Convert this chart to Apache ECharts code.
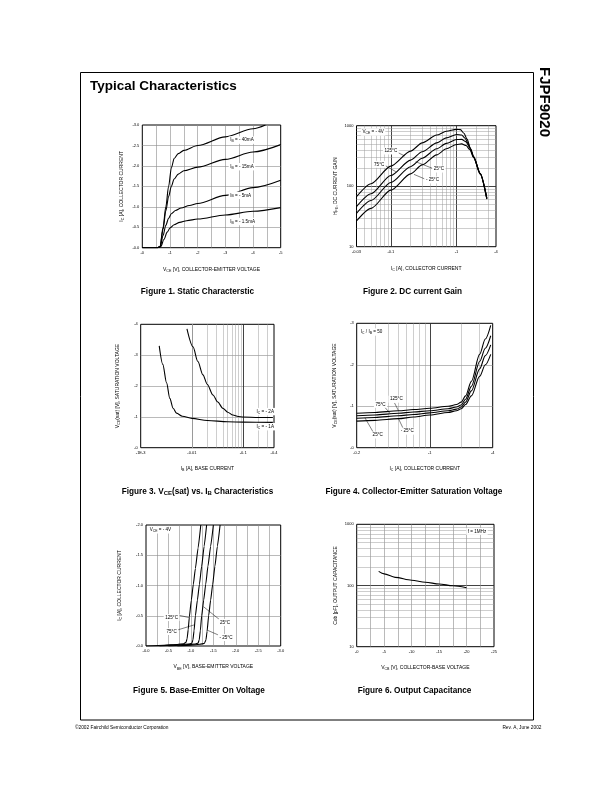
<!DOCTYPE html>
<html>
<head>
<meta charset="utf-8">
<title>FJPF9020 Typical Characteristics</title>
<script src="https://cdn.jsdelivr.net/npm/echarts@6.0.0/dist/echarts.min.js"></script>
<style>
html,body{margin:0;padding:0;background:#fff;}
#chart{width:612px;height:792px;}
</style>
</head>
<body>
<div id="chart"></div>
<script>
// ================= DATA (magnitudes; axis labels carry the minus sign) =================
// Figure 1. Static Characteristic : [|V_CE| (V), |I_C| (A)]
const fig1_IB40 = [[0,0],[0.55,0],[0.64,0.02],[0.75,0.5],[0.85,1.0],[0.95,1.5],[1.05,1.95],[1.15,2.18],[1.3,2.3],[1.5,2.38],[2,2.5],[3,2.71],[4,2.91],[4.45,3.0]];
const fig1_IB15 = [[0,0],[0.55,0],[0.64,0.02],[0.75,0.45],[0.85,0.9],[0.95,1.25],[1.05,1.5],[1.15,1.68],[1.3,1.8],[1.5,1.88],[2,1.97],[3,2.16],[4,2.34],[5,2.52]];
const fig1_IB5  = [[0,0],[0.55,0],[0.65,0.03],[0.75,0.3],[0.85,0.55],[0.95,0.72],[1.05,0.83],[1.2,0.91],[1.4,0.97],[1.7,1.03],[2,1.08],[3,1.28],[4,1.47],[5,1.65]];
const fig1_IB1p5= [[0,0],[0.55,0],[0.67,0.03],[0.78,0.2],[0.9,0.38],[1.0,0.48],[1.15,0.56],[1.35,0.62],[1.6,0.66],[2,0.7],[3,0.8],[4,0.89],[5,0.98]];
const fig1XTicks = [0,1,2,3,4,5];
const fig1XLabels = ['-0','-1','-2','-3','-4','-5'];
const fig1YTicks = [0,0.5,1,1.5,2,2.5,3];
const fig1YLabels = ['-0.0','-0.5','-1.0','-1.5','-2.0','-2.5','-3.0'];

// Figure 2. DC current Gain : [|I_C| (A), hFE]
const fig2_T125 = [[0.03,67],[0.05,110],[0.1,215],[0.2,380],[0.3,520],[0.5,700],[0.7,810],[1.0,870],[1.15,860],[1.3,750],[1.45,600],[1.63,423],[1.83,307],[2.3,163],[2.9,64]];
const fig2_T75  = [[0.03,46],[0.05,75],[0.1,150],[0.2,270],[0.3,370],[0.5,520],[0.7,630],[1.0,715],[1.2,700],[1.35,620],[1.5,510],[1.63,410],[1.83,305],[2.3,162],[2.9,63]];
const fig2_T25  = [[0.03,35.6],[0.05,58],[0.1,115],[0.2,210],[0.3,290],[0.5,415],[0.7,510],[1.0,590],[1.2,595],[1.4,540],[1.6,430],[1.83,300],[2.3,160],[2.9,62]];
const fig2_Tm25 = [[0.03,26.6],[0.05,43],[0.1,86],[0.2,160],[0.3,225],[0.5,330],[0.7,415],[1.0,490],[1.2,500],[1.4,470],[1.6,400],[1.83,295],[2.3,158],[2.9,61]];
const fig2XTicks = [0.03,0.1,1,4];
const fig2XLabels = ['-0.03','-0.1','-1','-4'];
const fig2YTicks = [10,100,1000];
const fig2YLabels = ['10','100','1000'];

// Figure 3. VCE(sat) vs IB : [|I_B| (A), |V_CE(sat)|]
const fig3_IC1 = [[0.0023,3.3],[0.0027,2.7],[0.0032,2.1],[0.0037,1.6],[0.0043,1.28],[0.005,1.12],[0.0065,1.02],[0.01,0.95],[0.02,0.88],[0.05,0.84],[0.1,0.83],[0.38,0.82]];
const fig3_IC2 = [[0.008,3.85],[0.0105,3.27],[0.013,2.8],[0.0164,2.36],[0.02,2.05],[0.0257,1.71],[0.032,1.48],[0.04,1.28],[0.05,1.15],[0.063,1.06],[0.08,1.01],[0.1,0.995],[0.2,0.98],[0.38,0.98]];
const fig3XTicks = [0.001,0.01,0.1,0.4];
const fig3XLabels = ['-1E-3','-0.01','-0.1','-0.4'];
const fig3YTicks = [0,1,2,3,4];
const fig3YLabels = ['-0','-1','-2','-3','-4'];

// Figure 4. Collector-Emitter Saturation Voltage : [|I_C| (A), |V_CE(sat)|]
const fig4_T125 = [[0.2,0.83],[0.3,0.85],[0.5,0.89],[0.7,0.92],[1,0.95],[1.5,1.0],[1.8,1.04],[2.0,1.1],[2.2,1.25],[2.5,1.6],[3,2.25],[3.4,2.62],[3.83,2.95]];
const fig4_T75  = [[0.2,0.77],[0.3,0.79],[0.5,0.83],[0.7,0.86],[1,0.89],[1.5,0.94],[1.8,0.98],[2.0,1.03],[2.2,1.17],[2.5,1.48],[3,2.08],[3.4,2.4],[3.83,2.7]];
const fig4_T25  = [[0.2,0.71],[0.3,0.73],[0.5,0.77],[0.7,0.8],[1,0.84],[1.5,0.89],[1.8,0.93],[2.0,0.98],[2.2,1.1],[2.5,1.37],[3,1.9],[3.4,2.22],[3.83,2.48]];
const fig4_Tm25 = [[0.2,0.64],[0.3,0.66],[0.5,0.7],[0.7,0.74],[1,0.79],[1.5,0.85],[1.8,0.89],[2.0,0.94],[2.2,1.04],[2.5,1.25],[3,1.72],[3.4,2.0],[3.83,2.25]];
const fig4XTicks = [0.2,1,4];
const fig4XLabels = ['-0.2','-1','-4'];
const fig4YTicks = [0,1,2,3];
const fig4YLabels = ['-0','-1','-2','-3'];

// Figure 5. Base-Emitter On Voltage : [|V_BE| (V), |I_C| (A)]
const fig5_T125 = [[0,0],[0.4,0.012],[0.7,0.026],[0.84,0.038],[0.89,0.06],[0.915,0.12],[0.94,0.27],[0.965,0.48],[1.01,0.76],[1.054,1.02],[1.1,1.28],[1.16,1.62],[1.22,2.0]];
const fig5_T75  = [[0.3,0],[0.7,0.018],[0.95,0.032],[1.02,0.045],[1.045,0.1],[1.07,0.25],[1.1,0.5],[1.145,0.76],[1.19,1.02],[1.24,1.32],[1.295,1.65],[1.35,2.0]];
const fig5_T25  = [[0.5,0],[0.9,0.02],[1.1,0.034],[1.16,0.048],[1.185,0.1],[1.21,0.25],[1.24,0.5],[1.285,0.76],[1.33,1.02],[1.38,1.32],[1.44,1.65],[1.5,2.0]];
const fig5_Tm25 = [[0.7,0],[1.0,0.015],[1.2,0.028],[1.3,0.043],[1.335,0.1],[1.36,0.24],[1.395,0.5],[1.44,0.76],[1.485,1.02],[1.535,1.32],[1.59,1.65],[1.65,2.0]];
const fig5XTicks = [0,0.5,1,1.5,2,2.5,3];
const fig5XLabels = ['-0.0','-0.5','-1.0','-1.5','-2.0','-2.5','-3.0'];
const fig5YTicks = [0,0.5,1,1.5,2];
const fig5YLabels = ['-0.0','-0.5','-1.0','-1.5','-2.0'];

// Figure 6. Output Capacitance : [|V_CB| (V), Cob (pF)]
const fig6_Cob = [[4,170],[5,155],[7,136],[10,122],[12.5,113],[15,106],[17.5,99],[20,92]];
const fig6XTicks = [0,5,10,15,20,25];
const fig6XLabels = ['-0','-5','-10','-15','-20','-25'];
const fig6YTicks = [10,100,1000];
const fig6YLabels = ['10','100','1000'];

// ================= STYLE / LAYOUT =================
const FONT = 'Liberation Sans';
const GRID_LIN = '#8c8c8c';
const GRID_DEC = '#2e2e2e';
const GRID_MIN = '#9c9c9c';

const grids = [
  {left:142.3, top:125,   width:138.4, height:122.7},
  {left:356.5, top:125.7, width:139.5, height:121},
  {left:140.7, top:324.3, width:133.3, height:123.4},
  {left:356.7, top:323.3, width:136,   height:124.4},
  {left:146,   top:525,   width:134.7, height:121},
  {left:356.7, top:524.3, width:137.3, height:122.4}
].map(g => Object.assign({show:true, borderColor:'#000', borderWidth:1, backgroundColor:'rgba(0,0,0,0)', containLabel:false, outerBoundsMode:'none'}, g));

function lookupFmt(ticks, labels, rel) {
  return function (v) {
    for (let i = 0; i < ticks.length; i++) {
      const t = ticks[i];
      const d = rel ? Math.abs(v / t - 1) : Math.abs(v - t);
      if (d < 1e-6) return labels[i];
    }
    return '';
  };
}
function richStyle(fs, weight) {
  return {
    n: {fontSize: fs, fontFamily: FONT, color: '#000', fontWeight: weight || 'normal'},
    s: {fontSize: fs * 0.72, fontFamily: FONT, color: '#000', fontWeight: weight || 'normal', padding: [fs * 0.6, 0, 0, 0]}
  };
}
function mkAxis(k, cfg) {
  const isLog = !!cfg.log;
  const a = {
    gridIndex: k, type: isLog ? 'log' : 'value', min: cfg.min, max: cfg.max,
    axisLine: {show: false}, axisTick: {show: false},
    axisLabel: {show: true, fontSize: 4, fontFamily: FONT, color: '#000', margin: cfg.margin || 3,
      showMinLabel: true, showMaxLabel: true, hideOverlap: false,
      formatter: lookupFmt(cfg.ticks, cfg.labels, isLog)},
    splitLine: {show: true, showMinLine: false, showMaxLine: false,
      lineStyle: {color: isLog ? GRID_DEC : GRID_LIN, width: isLog ? 0.9 : 0.6}},
    name: cfg.name, nameLocation: 'middle', nameGap: cfg.gap,
    nameTextStyle: {fontSize: 5, fontFamily: FONT, color: '#000', rich: richStyle(5)}
  };
  if (isLog) a.logBase = 10;
  if (cfg.interval) a.interval = cfg.interval;
  if (cfg.minor) {
    a.minorTick = {show: false, splitNumber: cfg.minor};
    a.minorSplitLine = {show: true, lineStyle: {color: GRID_LIN, width: 0.6}};
  }
  return a;
}
const xAxes = [
  mkAxis(0, {min:0, max:5, interval:1, minor:2, ticks:fig1XTicks, labels:fig1XLabels, gap:18.5, name:'{n|V}{s|CE}{n| [V], COLLECTOR-EMITTER VOLTAGE}'}),
  mkAxis(1, {log:true, min:0.03, max:4, ticks:fig2XTicks, labels:fig2XLabels, gap:18.5, name:'{n|I}{s|C}{n| [A], COLLECTOR CURRENT}'}),
  mkAxis(2, {log:true, min:0.001, max:0.4, ticks:fig3XTicks, labels:fig3XLabels, gap:17, name:'{n|I}{s|B}{n| [A], BASE CURRENT}'}),
  mkAxis(3, {log:true, min:0.2, max:4, ticks:fig4XTicks, labels:fig4XLabels, gap:17, name:'{n|I}{s|C}{n| [A], COLLECTOR CURRENT}'}),
  mkAxis(4, {min:0, max:3, interval:0.5, minor:2, ticks:fig5XTicks, labels:fig5XLabels, gap:17.5, name:'{n|V}{s|BE}{n| [V], BASE-EMITTER VOLTAGE}'}),
  mkAxis(5, {min:0, max:25, interval:5, minor:2, ticks:fig6XTicks, labels:fig6XLabels, gap:17.5, name:'{n|V}{s|CB}{n| [V], COLLECTOR-BASE VOLTAGE}'})
];
const yAxes = [
  mkAxis(0, {min:0, max:3, interval:0.5, ticks:fig1YTicks, labels:fig1YLabels, gap:17.5, name:'{n|I}{s|C}{n| [A], COLLECTOR CURRENT}'}),
  mkAxis(1, {log:true, min:10, max:1000, ticks:fig2YTicks, labels:fig2YLabels, gap:17.5, name:'{n|H}{s|FE}{n|, DC CURRENT GAIN}'}),
  mkAxis(2, {min:0, max:4, interval:1, ticks:fig3YTicks, labels:fig3YLabels, gap:19.5, name:'{n|V}{s|CE}{n|(sat) [V], SATURATION VOLTAGE}'}),
  mkAxis(3, {min:0, max:3, interval:1, ticks:fig4YTicks, labels:fig4YLabels, gap:18.5, name:'{n|V}{s|CE}{n|(sat) [V], SATURATION VOLTAGE}'}),
  mkAxis(4, {min:0, max:2, interval:0.5, ticks:fig5YTicks, labels:fig5YLabels, gap:23, name:'{n|I}{s|C}{n| [A], COLLECTOR CURRENT}'}),
  mkAxis(5, {log:true, min:10, max:1000, ticks:fig6YTicks, labels:fig6YLabels, gap:18.5, name:'Cob [pF], OUTPUT CAPACITANCE'})
];

function curve(k, data, sm) {
  return {type:'line', xAxisIndex:k, yAxisIndex:k, data:data, symbol:'none', showSymbol:false,
    smooth: sm === undefined ? 0.3 : sm, smoothMonotone:'x', clip:true, silent:true, animation:false, z:5,
    lineStyle:{color:'#000', width:1.1}};
}
// log-scale minor grid lines drawn through the axes with markLine
function logMinors(lo, hi) {
  const out = [];
  for (let d = -4; d <= 4; d++) {
    for (let m = 2; m <= 9; m++) {
      const v = m * Math.pow(10, d);
      if (v > lo * 1.0001 && v < hi * 0.9999) out.push(+v.toPrecision(6));
    }
  }
  return out;
}
function minorGrid(k, dim, values, anchor) {
  return {type:'line', xAxisIndex:k, yAxisIndex:k, data:[anchor], symbol:'none', silent:true, animation:false, z:1,
    lineStyle:{opacity:0},
    markLine:{silent:true, symbol:['none','none'], animation:false, label:{show:false},
      lineStyle:{color:GRID_MIN, width:0.5, type:'solid'},
      data: values.map(v => dim === 'x' ? {xAxis:v} : {yAxis:v})}};
}

const series = [
  minorGrid(1, 'x', logMinors(0.03, 4), [0.03, 10]),
  minorGrid(1, 'y', logMinors(10, 1000), [0.03, 10]),
  minorGrid(2, 'x', logMinors(0.001, 0.4), [0.001, 0]),
  minorGrid(3, 'x', logMinors(0.2, 4), [0.2, 0]),
  minorGrid(5, 'y', logMinors(10, 1000), [0, 10]),
  curve(0, fig1_IB40), curve(0, fig1_IB15), curve(0, fig1_IB5), curve(0, fig1_IB1p5),
  curve(1, fig2_T125, 0.25), curve(1, fig2_T75, 0.25), curve(1, fig2_T25, 0.25), curve(1, fig2_Tm25, 0.25),
  curve(2, fig3_IC1), curve(2, fig3_IC2),
  curve(3, fig4_T125), curve(3, fig4_T75), curve(3, fig4_T25), curve(3, fig4_Tm25),
  curve(4, fig5_T125, 0.15), curve(4, fig5_T75, 0.15), curve(4, fig5_T25, 0.15), curve(4, fig5_Tm25, 0.15),
  curve(5, fig6_Cob)
];

const chart = echarts.init(document.getElementById('chart'), null, {renderer:'canvas', width:612, height:792});
chart.setOption({
  animation:false,
  backgroundColor:'#fff',
  grid: grids,
  xAxis: xAxes,
  yAxis: yAxes,
  series: series
});

// ================= ANNOTATIONS (placed in data coordinates) =================
// [grid, text, x, y, align, boxed]
const notes = [
  [0, '{n|I}{s|B}{n| = - 40mA}', 3.12, 2.63, 'left', true],
  [0, '{n|I}{s|B}{n| = - 15mA}', 3.12, 1.98, 'left', true],
  [0, '{n|I}{s|B}{n| = - 5mA}', 3.12, 1.28, 'left', true],
  [0, '{n|I}{s|B}{n| = - 1.5mA}', 3.12, 0.64, 'left', true],
  [1, '{n|V}{s|CE}{n| = - 4V}', 0.035, 787, 'left', true],
  [1, '{n|125°C}', 0.1, 382, 'center', true],
  [1, '{n|75°C}', 0.0665, 230, 'center', true],
  [1, '{n|25°C}', 0.54, 192, 'center', true],
  [1, '{n|- 25°C}', 0.43, 127, 'center', true],
  [2, '{n|I}{s|C}{n| = - 2A}', 0.171, 1.17, 'left', true],
  [2, '{n|I}{s|C}{n| = - 1A}', 0.171, 0.68, 'left', true],
  [3, '{n|I}{s|C}{n| / I}{s|B}{n| = 50}', 0.212, 2.79, 'left', true],
  [3, '{n|125°C}', 0.479, 1.17, 'center', true],
  [3, '{n|75°C}', 0.338, 1.046, 'center', true],
  [3, '{n|- 25°C}', 0.608, 0.40, 'center', true],
  [3, '{n|25°C}', 0.318, 0.306, 'center', true],
  [4, '{n|V}{s|CE}{n| = - 4V}', 0.05, 1.92, 'left', true],
  [4, '{n|125°C}', 0.57, 0.47, 'center', true],
  [4, '{n|75°C}', 0.57, 0.24, 'center', true],
  [4, '{n|25°C}', 1.76, 0.39, 'center', true],
  [4, '{n|- 25°C}', 1.78, 0.14, 'center', true],
  [5, '{n|f = 1MHz}', 21.9, 767, 'center', true]
];
// leader lines: [grid, x1, y1, x2, y2]
const leaders = [
  [1, 0.126, 363, 0.163, 316],
  [1, 0.0793, 224, 0.119, 174],
  [1, 0.239, 254, 0.428, 198],
  [1, 0.225, 157, 0.327, 132],
  [3, 0.46, 1.08, 0.5, 0.9],
  [3, 0.37, 0.98, 0.42, 0.82],
  [3, 0.56, 0.45, 0.5, 0.71],
  [3, 0.29, 0.36, 0.24, 0.72],
  [4, 0.72, 0.51, 0.96, 0.47],
  [4, 0.68, 0.26, 1.08, 0.35],
  [4, 1.648, 0.43, 1.28, 0.65],
  [4, 1.648, 0.17, 1.37, 0.26]
];

const px = (k, x, y) => chart.convertToPixel({gridIndex:k}, [x, y]);
const graphic = [];
// page frame
graphic.push({type:'rect', shape:{x:80.5, y:72.5, width:453, height:647.5}, style:{fill:null, stroke:'#000', lineWidth:1}, silent:true, z:0});
graphic.push({type:'text', x:90, y:86, style:{text:'Typical Characteristics', fontSize:13.5, fontWeight:'bold', fontFamily:FONT, fill:'#000', align:'left', verticalAlign:'middle'}});
graphic.push({type:'text', x:544.5, y:67, rotation:-Math.PI/2, style:{text:'FJPF9020', fontSize:15, fontWeight:'bold', fontFamily:FONT, fill:'#000', align:'left', verticalAlign:'middle'}});
const captions = [
  [197.5, 291.5, '{b|Figure 1. Static Characterstic}'],
  [412.5, 291.5, '{b|Figure 2. DC current Gain}'],
  [197.5, 491.5, '{b|Figure 3. V}{bs|CE}{b|(sat) vs. I}{bs|B}{b| Characteristics}'],
  [414, 491.5, '{b|Figure 4. Collector-Emitter Saturation Voltage}'],
  [199, 690.5, '{b|Figure 5. Base-Emitter On Voltage}'],
  [414.5, 690.5, '{b|Figure 6. Output Capacitance}']
];
const capRich = {
  b: {fontSize:8.2, fontWeight:'bold', fontFamily:FONT, fill:'#000'},
  bs: {fontSize:6, fontWeight:'bold', fontFamily:FONT, fill:'#000', padding:[4,0,0,0]}
};
captions.forEach(c => graphic.push({type:'text', x:c[0], y:c[1], style:{text:c[2], rich:capRich, align:'center', verticalAlign:'middle', fill:'#000'}}));
graphic.push({type:'text', x:75, y:727.5, style:{text:'©2002 Fairchild Semiconductor Corporation', fontSize:4.8, fontFamily:FONT, fill:'#000', align:'left', verticalAlign:'middle'}});
graphic.push({type:'text', x:541.5, y:727.5, style:{text:'Rev. A, June 2002', fontSize:4.8, fontFamily:FONT, fill:'#000', align:'right', verticalAlign:'middle'}});

const noteRich = {
  n: {fontSize:4.6, fontFamily:FONT, fill:'#000'},
  s: {fontSize:3.4, fontFamily:FONT, fill:'#000', padding:[2.4,0,0,0]}
};
leaders.forEach(l => {
  const a = px(l[0], l[1], l[2]), b = px(l[0], l[3], l[4]);
  graphic.push({type:'line', shape:{x1:a[0], y1:a[1], x2:b[0], y2:b[1]}, style:{stroke:'#000', lineWidth:0.5}, silent:true, z:50});
});
notes.forEach(n => {
  const p = px(n[0], n[2], n[3]);
  graphic.push({type:'text', x:p[0], y:p[1], z:60, silent:true,
    style:{text:n[1], rich:noteRich, align:n[4], verticalAlign:'middle', fill:'#000',
      backgroundColor: n[5] ? '#fff' : null, padding:[1, 1.5, 1, 1.5]}});
});

chart.setOption({graphic: graphic});
</script>
</body>
</html>
